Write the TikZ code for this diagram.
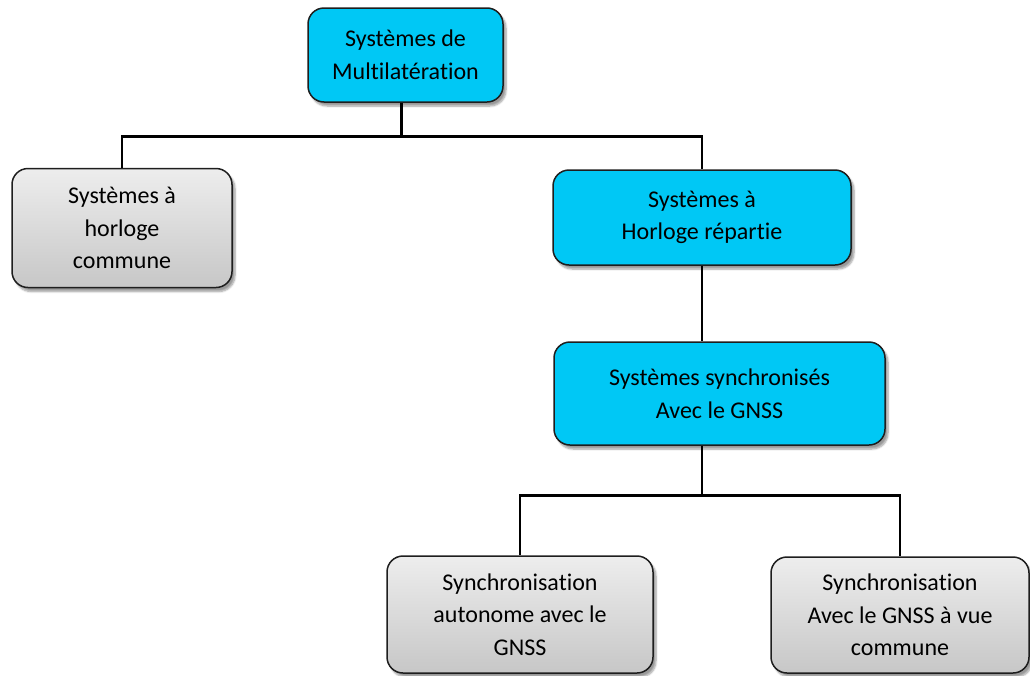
\documentclass[tikz,border=0pt]{standalone}
\usepackage{fontspec}
\setmainfont[Ligatures=NoCommon]{Carlito}
\usetikzlibrary{shadows.blur}
\definecolor{boxcyan}{RGB}{0,200,245}
\definecolor{boxedge}{RGB}{30,30,30}
\tikzset{
  box/.style={draw=boxedge, line width=1.5pt, rounded corners=16pt, align=center,
    font=\fontsize{24}{32.5}\selectfont, text=black,
    blur shadow={shadow xshift=3pt, shadow yshift=-4pt, shadow blur steps=6, shadow opacity=40}},
  cyanbox/.style={box, fill=boxcyan},
  graybox/.style={box, top color=black!7, middle color=black!13, bottom color=black!22},
  conn/.style={draw=black, line width=2.6pt}
}
\begin{document}
\begin{tikzpicture}[x=1pt, y=-1pt]
\useasboundingbox (0,0) rectangle (1030,675);

\node[cyanbox, minimum width=195pt, minimum height=94pt] (root) at (405.5,55) {Systèmes de\\Multilatération};
\node[graybox, minimum width=220pt, minimum height=119pt] (common) at (122,228) {Systèmes à\\horloge\\commune};
\node[cyanbox, minimum width=298pt, minimum height=95pt] (distrib) at (702,217.5) {Systèmes à\\Horloge répartie};
\node[cyanbox, minimum width=331pt, minimum height=103pt] (gnss) at (719.5,393.5) {Systèmes synchronisés\\Avec le GNSS};
\node[graybox, minimum width=266pt, minimum height=117pt] (auto) at (520,614.5) {Synchronisation\\autonome avec le\\GNSS};
\node[graybox, minimum width=258pt, minimum height=116pt] (view) at (900,615) {Synchronisation\\Avec le GNSS à vue\\commune};

% tree connectors
\draw[conn] ([xshift=-4pt]root.south) -- ++(0,34) coordinate (j1);
\draw[conn] (common.north) |- (j1) -| (distrib.north);
\draw[conn] (distrib.south) -- (distrib.south |- gnss.north);
\draw[conn] (distrib.south |- gnss.south) -- ++(0,50) coordinate (j2);
\draw[conn] (auto.north) |- (j2) -| (view.north);
\end{tikzpicture}
\end{document}
